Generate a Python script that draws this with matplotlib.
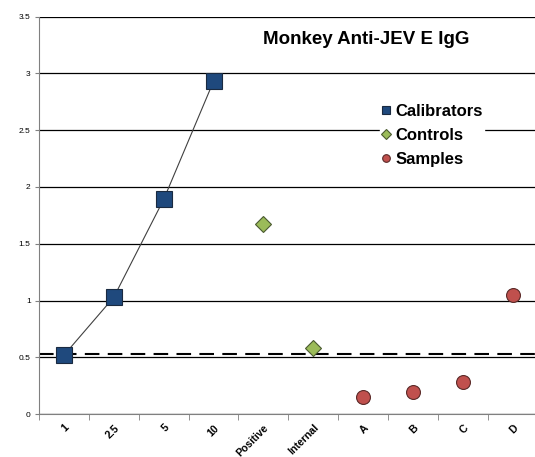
import numpy as np
import matplotlib
matplotlib.use('Agg')
import matplotlib.pyplot as plt

plt.rcParams['font.family'] = ['Liberation Sans', 'DejaVu Sans']

# Data
categories = ['1', '2.5', '5', '10', 'Positive', 'Internal', 'A', 'B', 'C', 'D']
calibrators = [0.52, 1.03, 1.89, 2.93]
controls = [1.67, 0.58]
samples = [0.15, 0.20, 0.28, 1.05]
cutoff = 0.53

fig = plt.figure(figsize=(5.35, 4.57), dpi=100)
ax = fig.add_axes([39 / 535, 1 - 414.3 / 457, 1 - 39 / 535 + 0.005, (414.3 - 16.5) / 457])

x_cal = [0, 1, 2, 3]
x_ctl = [4, 5]
x_smp = [6, 7, 8, 9]

ax.plot(x_cal, calibrators, color='#404040', lw=0.8, zorder=3)
ax.plot(x_cal, calibrators, 's', ms=11.5, color='#1F497D', mec='#1a2a40', mew=0.8,
        linestyle='none', zorder=4, label='Calibrators')
ax.plot(x_ctl, controls, 'D', ms=8.5, color='#9BBB59', mec='#4a5a30', mew=0.8,
        linestyle='none', zorder=4, label='Controls')
ax.plot(x_smp, samples, 'o', ms=10, color='#C0504D', mec='#5a2a28', mew=0.8,
        linestyle='none', zorder=4, label='Samples')

ax.axhline(cutoff, color='black', lw=1.5, ls=(0, (7, 4)), zorder=2)

ax.set_xlim(-0.5, 9.5)
ax.set_ylim(0, 3.5)
ax.set_yticks(np.arange(0, 3.51, 0.5))
ax.set_yticklabels(['0', '0.5', '1', '1.5', '2', '2.5', '3', '3.5'], fontsize=6)
ax.yaxis.grid(True, color='black', lw=0.9)
ax.set_axisbelow(True)

ax.set_xticks(range(len(categories)))
ax.set_xticklabels(categories, rotation=45, ha='right', rotation_mode='anchor',
                   fontsize=7.6, fontweight='bold')
ax.tick_params(axis='x', which='major', length=0, pad=6)
ax.set_xticks(np.arange(-0.5, 10, 1), minor=True)
ax.tick_params(axis='x', which='minor', length=4, color='#808080')
ax.tick_params(axis='y', length=3, color='#808080', pad=3)

for s in ['top', 'right']:
    ax.spines[s].set_visible(False)
ax.spines['left'].set_color('#808080')
ax.spines['bottom'].set_color('#808080')

fig.text(366 / 535, 1 - 40 / 457, 'Monkey Anti-JEV E IgG', fontsize=13.5,
         fontweight='bold', ha='center', va='center')

leg = ax.legend(loc='upper left', bbox_to_anchor=(372 / 535, 1 - 94 / 457),
                bbox_transform=fig.transFigure, frameon=True, framealpha=1,
                edgecolor='white', facecolor='white', fancybox=False,
                prop={'weight': 'bold', 'size': 12}, markerscale=0.55,
                handlelength=0.5, handletextpad=0.3, labelspacing=0.55,
                borderpad=0.1)

fig.savefig('out.png', dpi=100)
